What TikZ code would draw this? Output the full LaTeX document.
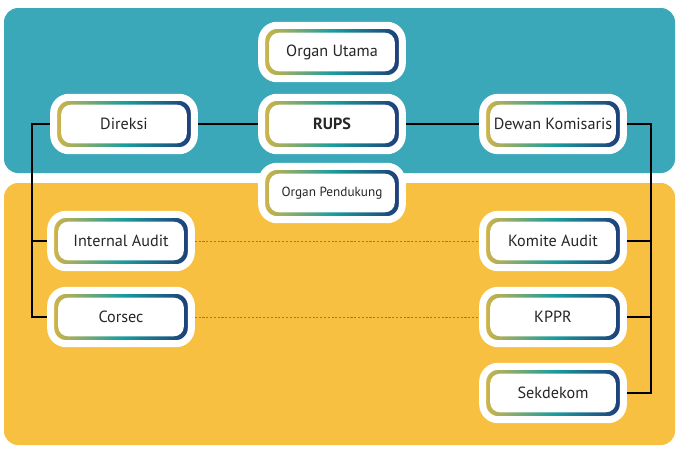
\documentclass[tikz,border=0pt]{standalone}
\usepackage{fontspec}
\setmainfont{PT Sans}
\usetikzlibrary{calc}
\definecolor{tealband}{HTML}{3AA8B9}
\definecolor{yellowband}{HTML}{F8C040}
\definecolor{framegold}{HTML}{D6B546}
\definecolor{frameteal}{HTML}{1A9E9E}
\definecolor{framenavy}{HTML}{1E3A78}
\definecolor{dotbrown}{HTML}{8C7B5C}

\begin{document}
\begin{tikzpicture}[x=0.025cm,y=-0.025cm,
    orgbox/.style={rectangle, rounded corners=11pt, minimum width=100pt, minimum height=38pt,
        inner sep=0pt, align=center,
        left color=framegold, right color=framenavy, middle color=frameteal,
        draw=white, line width=5pt,
        path picture={\fill[white, rounded corners=7pt]
            ($(path picture bounding box.south west)+(5.3pt,5.3pt)$) rectangle
            ($(path picture bounding box.north east)-(5.3pt,5.3pt)$);},
        font=\fontsize{11.5}{13}\selectfont, text=black!85},
    smalltext/.style={font=\fontsize{9.4}{11}\selectfont},
    wire/.style={black, line width=1.3pt},
    dotwire/.style={dotbrown, line width=0.6pt, dash pattern=on 1.5pt off 1.2pt}]
    \useasboundingbox (0,0) rectangle (683,450);
    % the two bands
    \fill[tealband, rounded corners=10pt] (4,8) rectangle (675,173);
    \fill[yellowband, rounded corners=10pt] (4,183) rectangle (675,445);
    % organ utama
    \node[orgbox] (utama) at (332,52) {Organ Utama};
    \node[orgbox, font=\fontsize{11.5}{13}\selectfont\bfseries] (rups) at (332,124) {RUPS};
    \node[orgbox] (direksi) at (124,124) {Direksi};
    \node[orgbox] (dekom) at (553,124) {Dewan Komisaris};
    % organ pendukung
    \node[orgbox, smalltext] (pendukung) at (332,193) {Organ Pendukung};
    \node[orgbox] (ia) at (121,241) {Internal Audit};
    \node[orgbox] (corsec) at (121,317) {Corsec};
    \node[orgbox] (komite) at (553,241) {Komite Audit};
    \node[orgbox] (kppr) at (553,317) {KPPR};
    \node[orgbox] (sekdekom) at (553,393) {Sekdekom};
    \coordinate (lbus) at (32,0);
    \coordinate (rbus) at (651,0);
    \draw[wire] (rups) -- (direksi);
    \draw[wire] (rups) -- (dekom);
    \draw[wire] (direksi.west) -- (direksi.west -| lbus) |- (corsec.west);
    \draw[wire] (ia.west) -- (ia.west -| lbus);
    \draw[wire] (dekom.east) -- (dekom.east -| rbus) |- (sekdekom.east);
    \draw[wire] (komite.east) -- (komite.east -| rbus);
    \draw[wire] (kppr.east) -- (kppr.east -| rbus);
    \draw[dotwire] (ia) -- (komite);
    \draw[dotwire] (corsec) -- (kppr);
\end{tikzpicture}
\end{document}
